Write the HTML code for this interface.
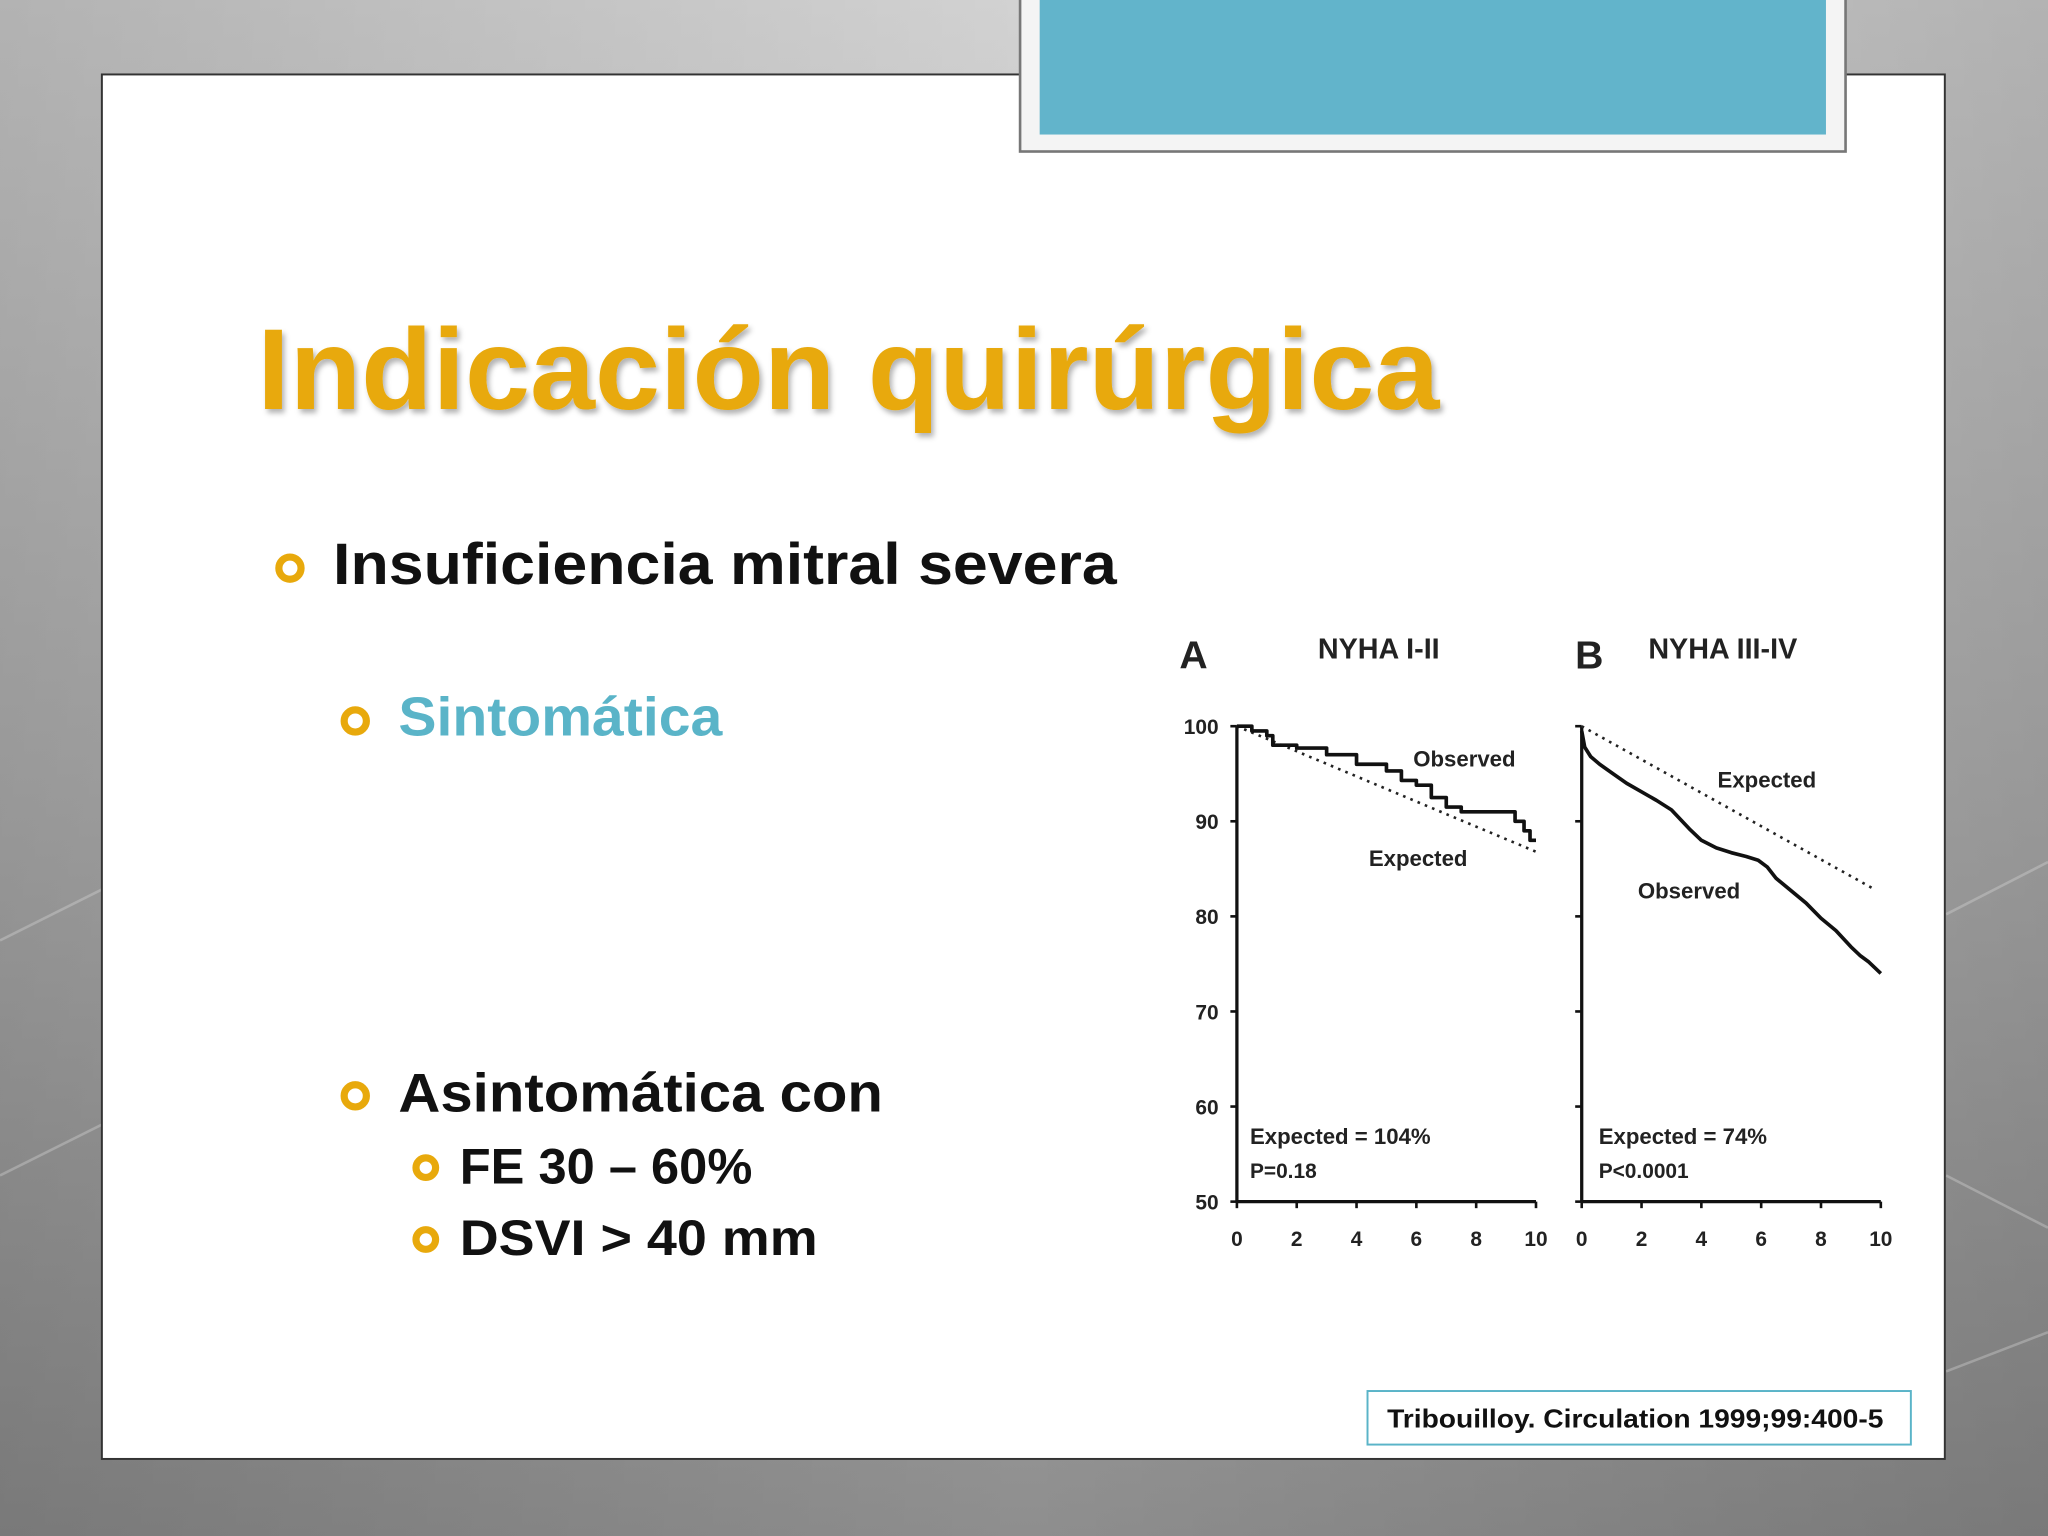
<!DOCTYPE html>
<html><head><meta charset="utf-8"><style>
html,body{margin:0;padding:0;width:2048px;height:1536px;overflow:hidden;background:#aaa}
svg{display:block}
text{font-family:"Liberation Sans",sans-serif}
</style></head><body>
<svg width="2048" height="1536" viewBox="0 0 1568 1176">
<defs>
<linearGradient id="bg" x1="0" y1="0" x2="0" y2="1">
<stop offset="0" stop-color="#d2d2d2"/><stop offset="0.5" stop-color="#b4b4b4"/><stop offset="1" stop-color="#8e8e8e"/>
</linearGradient>
<linearGradient id="bgh" x1="0" y1="0" x2="1" y2="0">
<stop offset="0" stop-color="#000" stop-opacity="0.15"/><stop offset="0.5" stop-color="#000" stop-opacity="0"/><stop offset="1" stop-color="#000" stop-opacity="0.15"/>
</linearGradient>
<filter id="sh"><feDropShadow dx="2" dy="3" stdDeviation="2" flood-color="#000" flood-opacity="0.3"/></filter>
</defs>
<rect x="0" y="0" width="1568" height="1176" fill="url(#bg)"/>
<rect x="0" y="0" width="1568" height="1176" fill="url(#bgh)"/>
<g stroke="#ddd" stroke-opacity="0.35" fill="none" stroke-width="2">
<path d="M0 720 L80 680 L80 860 L0 900"/><path d="M1490 700 L1568 660"/><path d="M1490 900 L1568 940"/><path d="M1490 1050 L1568 1020"/>
</g>
<rect x="78" y="57" width="1411" height="1060" fill="#fff" stroke="#333" stroke-width="1.5"/>
<rect x="781" y="-2" width="632" height="118" fill="#f4f4f4" stroke="#777" stroke-width="2"/>
<rect x="796" y="0" width="602" height="103" fill="#62b4cb"/>
<text x="197" y="313" font-size="88" font-weight="bold" fill="#e8a90c" filter="url(#sh)" textLength="905" lengthAdjust="spacingAndGlyphs">Indicación quirúrgica</text>
<g fill="none" stroke="#e8a90c" stroke-width="5.5">
<circle cx="222" cy="435" r="8.5"/><circle cx="272" cy="552" r="8.5"/><circle cx="272" cy="839" r="8.5"/><circle cx="326" cy="894" r="7.5"/><circle cx="326" cy="949" r="7.5"/>
</g>
<text x="255" y="447" font-size="45" font-weight="bold" fill="#111" textLength="600" lengthAdjust="spacingAndGlyphs">Insuficiencia mitral severa</text>
<text x="305" y="563" font-size="42" font-weight="bold" fill="#5ab4c8" textLength="248" lengthAdjust="spacingAndGlyphs">Sintomática</text>
<text x="305" y="851" font-size="42" font-weight="bold" fill="#111" textLength="371" lengthAdjust="spacingAndGlyphs">Asintomática con</text>
<text x="352" y="906" font-size="38" font-weight="bold" fill="#111" textLength="224" lengthAdjust="spacingAndGlyphs">FE 30 – 60%</text>
<text x="352" y="961" font-size="38" font-weight="bold" fill="#111" textLength="274" lengthAdjust="spacingAndGlyphs">DSVI &gt; 40 mm</text>
<rect x="1047" y="1065" width="416" height="41" fill="#fff" stroke="#5ab4c8" stroke-width="1.5"/>
<text x="1062" y="1093" font-size="20" font-weight="bold" fill="#111" textLength="380" lengthAdjust="spacingAndGlyphs">Tribouilloy. Circulation 1999;99:400-5</text>
<g id="chart"></g>
</svg>
<script>
const xTicks=[0,2,4,6,8,10];
const yTicks=[100,90,80,70,60,50];
const obsAx=[0,0.5,1,1.2,2,3,3.5,4,5,5.3,5.5,6,6.4,6.5,7,7.5,9.2,9.3,9.6,9.8,10];
const obsAy=[100,99.5,99,98,97.7,97,97,96,95.3,95.3,94.3,93.8,93.8,92.5,91.5,91,91,90,89,88,88];
const expAx=[0,10];
const expAy=[100,86.8];
const obsBx=[0,0.1,0.3,0.6,1,1.5,2,2.5,3,3.3,3.6,4,4.5,5,5.5,5.9,6.2,6.5,7,7.5,8,8.5,9,9.3,9.6,10];
const obsBy=[99.5,97.8,96.8,96,95.1,94,93.1,92.2,91.2,90.2,89.2,88,87.2,86.7,86.3,85.9,85.2,84,82.7,81.4,79.8,78.5,76.8,75.9,75.2,74];
const expBx=[0,9.7];
const expBy=[100,83];
const NS='http://www.w3.org/2000/svg';
const g=document.getElementById('chart');
function el(t,a,txt){const e=document.createElementNS(NS,t);for(const k in a)e.setAttribute(k,a[k]);if(txt!=null)e.textContent=txt;g.appendChild(e);return e;}
function panel(x0,showYLabels,ox,oy,ex,ey,name,step){
  const X=v=>x0+v*22.9, Y=v=>556+(100-v)*7.28;
  let e=el('line',{x1:X(0),y1:Y(100),x2:X(0),y2:Y(50),stroke:'#111','stroke-width':2.5});
  
  e=el('line',{x1:X(0),y1:Y(50),x2:X(10),y2:Y(50),stroke:'#111','stroke-width':2.5});
  
  yTicks.forEach(v=>{
    el('line',{x1:X(0)-5,y1:Y(v),x2:X(0),y2:Y(v),stroke:'#111','stroke-width':2});
    if(showYLabels){e=el('text',{x:X(0)-14,y:Y(v)+6,'font-size':16,'font-weight':'bold','text-anchor':'end',fill:'#222'},v);
      }
  });
  xTicks.forEach(v=>{
    el('line',{x1:X(v),y1:Y(50),x2:X(v),y2:Y(50)+5,stroke:'#111','stroke-width':2});
    e=el('text',{x:X(v),y:954,'font-size':16,'font-weight':'bold','text-anchor':'middle',fill:'#222'},v);
    
  });
  e=el('polyline',{points:ex.map((v,i)=>X(v)+','+Y(ey[i])).join(' '),fill:'none',stroke:'#222','stroke-width':2,'stroke-dasharray':'2 4'});
  
  let pts=[];ox.forEach((v,i)=>{if(step&&i>0)pts.push(X(v)+','+Y(oy[i-1]));pts.push(X(v)+','+Y(oy[i]));});
  e=el('polyline',{points:pts.join(' '),fill:'none',stroke:'#111','stroke-width':2.8,'stroke-linejoin':'round'});
  
}
panel(947,true,obsAx,obsAy,expAx,expAy,'panel-a',true);
panel(1211,false,obsBx,obsBy,expBx,expBy,'panel-b',false);
const labels=[
 ['A',903,512,30,'panel-a-letter'],['NYHA I-II',1009,504,22,'panel-a-title'],
 ['B',1206,512,30,'panel-b-letter'],['NYHA III-IV',1262,504,22,'panel-b-title'],
 ['Observed',1082,587,17,'panel-a-observed-label'],['Expected',1048,663,17,'panel-a-expected-label'],
 ['Expected',1315,603,17,'panel-b-expected-label'],['Observed',1254,688,17,'panel-b-observed-label'],
 ['Expected = 104%',957,876,17,'panel-a-expected-stat'],['P=0.18',957,902,16,'panel-a-p-value'],
 ['Expected = 74%',1224,876,17,'panel-b-expected-stat'],['P<0.0001',1224,902,16,'panel-b-p-value']];
labels.forEach(l=>{const e=el('text',{x:l[1],y:l[2],'font-size':l[3],'font-weight':'bold',fill:'#222'},l[0]);
  });
</script>
</body></html>
